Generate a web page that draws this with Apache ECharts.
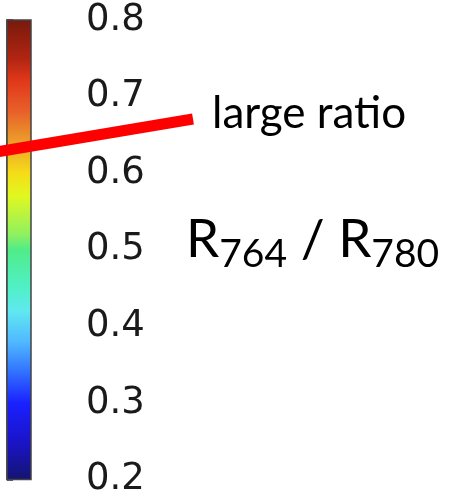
<!DOCTYPE html>
<html>
<head>
<meta charset="utf-8">
<script src="https://cdn.jsdelivr.net/npm/echarts@6/dist/echarts.min.js"></script>
<style>
  html, body { margin: 0; padding: 0; background: #fff; }
  #chart { width: 449px; height: 498px; }
</style>
</head>
<body>
<div id="chart"></div>
<script>
// colour scale range and ticks
const scaleMin = 0.2;
const scaleMax = 0.8;
const tickStep = 0.1;

// jet-like colormap, value -> colour
const stopValues = [0.8, 0.75, 0.72, 0.68, 0.64, 0.6, 0.57, 0.52, 0.5, 0.45, 0.42, 0.38, 0.34, 0.3, 0.25, 0.2];
const stopColors = ['#761a0c', '#b02412', '#e0381a', '#e8602a', '#eba02a', '#f5dc18', '#e0f820', '#90f060',
                    '#50ec88', '#50f0c8', '#60e8f0', '#50b8ff', '#3070ff', '#1a20ff', '#1a14c8', '#141470'];

// annotation
const markerLabel = 'large ratio';

const chart = echarts.init(document.getElementById('chart'));

const gradientStops = stopValues.map((v, i) => ({
  offset: (scaleMax - v) / (scaleMax - scaleMin),
  color: stopColors[i],
}));

const option = {
  backgroundColor: '#fff',
  animation: false,
  grid: { left: 7, top: 20, width: 24, height: 460 },
  xAxis: { type: 'value', min: 0, max: 1, show: false },
  yAxis: {
    type: 'value',
    position: 'right',
    min: scaleMin,
    max: scaleMax,
    interval: tickStep,
    splitLine: { show: false },
    axisLine: { show: true, lineStyle: { color: '#333', width: 1.5 } },
    axisTick: { show: true, length: 6, lineStyle: { color: '#333', width: 1.5 } },
    axisLabel: {
      margin: 55,
      color: '#1a1a1a',
      fontSize: 37,
      fontFamily: 'DejaVu Sans',
      formatter: v => v.toFixed(1),
    },
  },
  series: [
    {
      type: 'custom',
      data: [[0, scaleMin, 1, scaleMax]],
      renderItem: (params, api) => {
        const p0 = api.coord([api.value(0), api.value(3)]);
        const p1 = api.coord([api.value(2), api.value(1)]);
        return {
          type: 'rect',
          shape: { x: p0[0], y: p0[1], width: p1[0] - p0[0], height: p1[1] - p0[1] },
          style: {
            fill: new echarts.graphic.LinearGradient(0, 0, 0, 1, gradientStops),
            stroke: '#444',
            lineWidth: 1.5,
          },
        };
      },
      silent: true,
    },
  ],
  graphic: [
    {
      type: 'line',
      shape: { x1: -4, y1: 152, x2: 193, y2: 119 },
      style: { stroke: '#ff0000', lineWidth: 11 },
      z: 10,
    },
    {
      type: 'text',
      left: 212,
      top: 92,
      style: { text: markerLabel, fontSize: 44, fontFamily: 'Lato', fill: '#000' },
    },
    {
      type: 'text',
      left: 186,
      top: 213,
      style: {
        text: '{r|R}{s|764}{r| / R}{s|780}',
        fill: '#000',
        rich: {
          r: { fontSize: 53, fontFamily: 'Lato', fill: '#000', lineHeight: 56, verticalAlign: 'top' },
          s: { fontSize: 39, fontFamily: 'Lato', fill: '#000', lineHeight: 40, padding: [22, 0, 0, 0], verticalAlign: 'top' },
        },
      },
    },
  ],
};

chart.setOption(option);
</script>
</body>
</html>
